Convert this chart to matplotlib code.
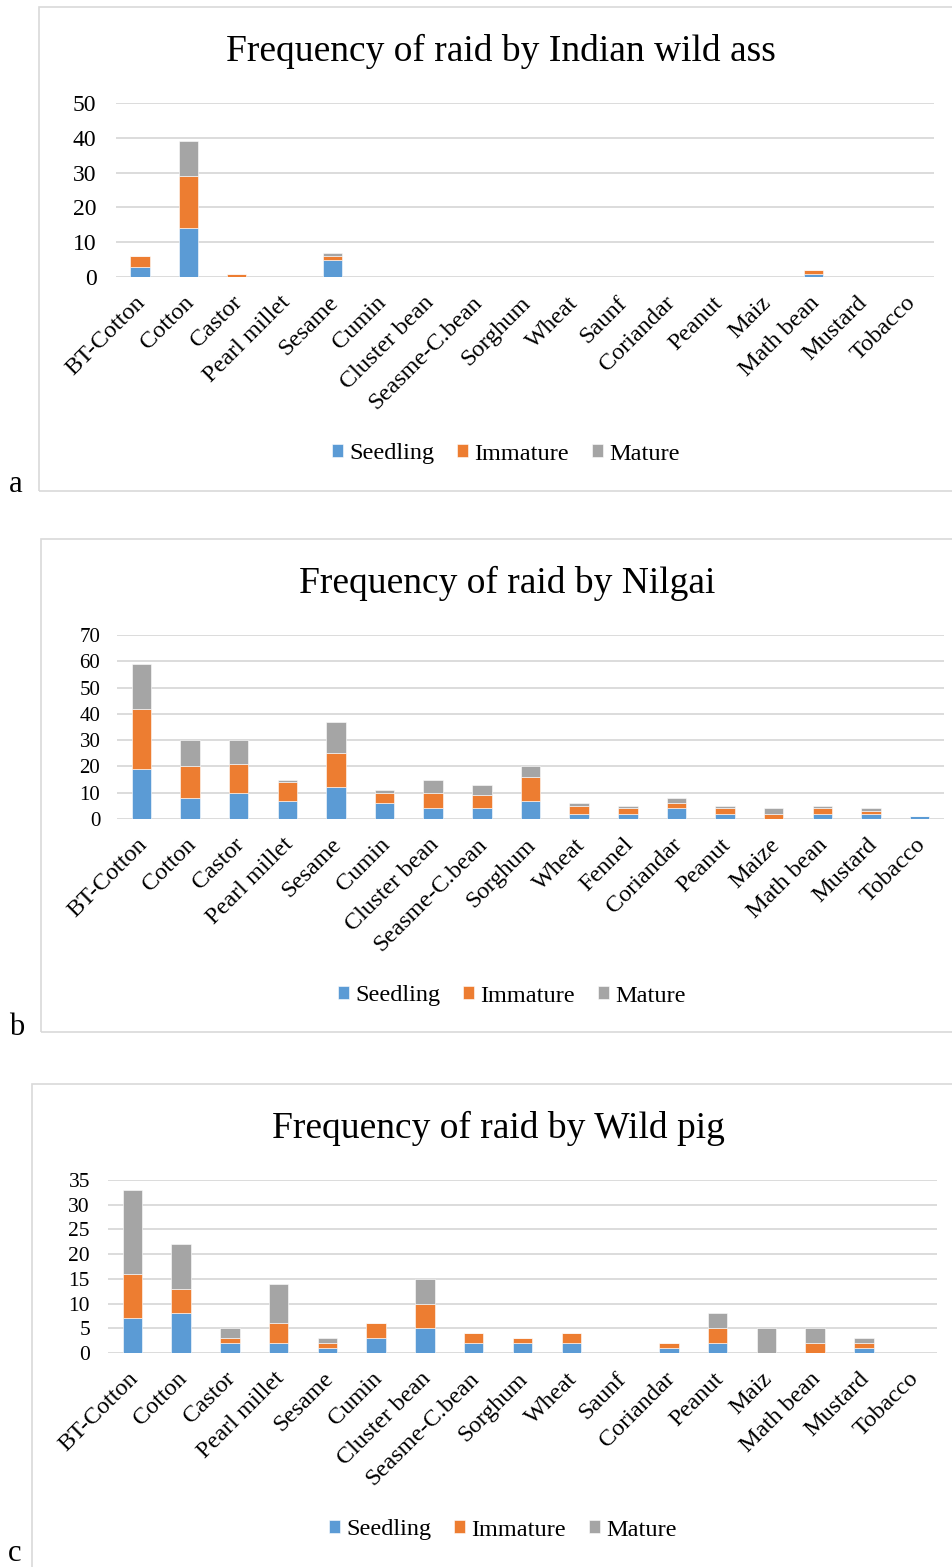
import matplotlib
matplotlib.use("Agg")
import matplotlib.pyplot as plt
from matplotlib.patches import Rectangle
from matplotlib.transforms import ScaledTranslation
import numpy as np

plt.rcParams['font.family'] = ['Liberation Serif', 'DejaVu Serif']

W, H = 953, 1567
DPI = 100

# ---------------- data ----------------
crops_a = ["BT-Cotton", "Cotton", "Castor", "Pearl millet", "Sesame", "Cumin", "Cluster bean",
           "Seasme-C.bean", "Sorghum", "Wheat", "Saunf", "Coriandar", "Peanut", "Maiz",
           "Math bean", "Mustard", "Tobacco"]
seedling_a = [3, 14, 0, 0, 5, 0, 0, 0, 0, 0, 0, 0, 0, 0, 1, 0, 0]
immature_a = [3, 15, 1, 0, 1, 0, 0, 0, 0, 0, 0, 0, 0, 0, 1, 0, 0]
mature_a = [0, 10, 0, 0, 1, 0, 0, 0, 0, 0, 0, 0, 0, 0, 0, 0, 0]

crops_b = ["BT-Cotton", "Cotton", "Castor", "Pearl millet", "Sesame", "Cumin", "Cluster bean",
           "Seasme-C.bean", "Sorghum", "Wheat", "Fennel", "Coriandar", "Peanut", "Maize",
           "Math bean", "Mustard", "Tobacco"]
seedling_b = [19, 8, 10, 7, 12, 6, 4, 4, 7, 2, 2, 4, 2, 0, 2, 2, 1]
immature_b = [23, 12, 11, 7, 13, 4, 6, 5, 9, 3, 2, 2, 2, 2, 2, 1, 0]
mature_b = [17, 10, 9, 1, 12, 1, 5, 4, 4, 1, 1, 2, 1, 2, 1, 1, 0]

crops_c = ["BT-Cotton", "Cotton", "Castor", "Pearl millet", "Sesame", "Cumin", "Cluster bean",
           "Seasme-C.bean", "Sorghum", "Wheat", "Saunf", "Coriandar", "Peanut", "Maiz",
           "Math bean", "Mustard", "Tobacco"]
seedling_c = [7, 8, 2, 2, 1, 3, 5, 2, 2, 2, 0, 1, 2, 0, 0, 1, 0]
immature_c = [9, 5, 1, 4, 1, 3, 5, 2, 1, 2, 0, 1, 3, 0, 2, 1, 0]
mature_c = [17, 9, 2, 8, 1, 0, 5, 0, 0, 0, 0, 0, 3, 5, 3, 1, 0]

series_names = ["Seedling", "Immature", "Mature"]
colors = ["#5B9BD5", "#ED7D31", "#A5A5A5"]
GRID = "#D9D9D9"

fig = plt.figure(figsize=(W / DPI, H / DPI), dpi=DPI)


def fx(x):
    return x / W


def fy(y):
    return 1 - y / H


def panel(box, axbox, title, title_xy, crops, s, i, m, ymax, ystep,
          tick_fs, cat_fs, ypad, legend_xy, letter, letter_xy):
    # border box
    bx0, by0, bx1, by1 = box
    fig.patches.append(Rectangle((fx(bx0), fy(by1)), fx(bx1 - bx0), (by1 - by0) / H,
                                 transform=fig.transFigure, fill=False,
                                 edgecolor=GRID, linewidth=1.2))
    l, t, r, b = axbox
    ax = fig.add_axes([fx(l), fy(b), fx(r - l), (b - t) / H])
    x = np.arange(len(crops))
    s = np.array(s, float); i = np.array(i, float); m = np.array(m, float)
    bw = 0.4
    ax.bar(x, s, bw, color=colors[0], edgecolor="white", linewidth=0.4, label=series_names[0], zorder=3)
    ax.bar(x, i, bw, bottom=s, color=colors[1], edgecolor="white", linewidth=0.4, label=series_names[1], zorder=3)
    ax.bar(x, m, bw, bottom=s + i, color=colors[2], edgecolor="white", linewidth=0.4, label=series_names[2], zorder=3)
    ax.set_xlim(-0.5, len(crops) - 0.5)
    ax.set_ylim(0, ymax)
    ax.set_yticks(np.arange(0, ymax + 0.1, ystep))
    ax.yaxis.grid(True, color=GRID, linewidth=1.3, zorder=0)
    ax.set_axisbelow(True)
    for sp in ax.spines.values():
        sp.set_visible(False)
    ax.tick_params(axis='y', length=0, pad=ypad, labelsize=tick_fs, colors="black")
    ax.tick_params(axis='x', length=0, pad=11)
    ax.set_xticks(x)
    ax.set_xticklabels(crops, rotation=45, ha='right', rotation_mode='anchor', fontsize=cat_fs)
    off = ScaledTranslation(-5 / DPI, 0, fig.dpi_scale_trans)
    for lab in ax.get_xticklabels():
        lab.set_transform(lab.get_transform() + off)
    ax.patch.set_alpha(0)
    fig.text(fx(title_xy[0]), fy(title_xy[1]), title, ha='center', va='center', fontsize=27)
    handles, labels = ax.get_legend_handles_labels()
    fig.legend(handles, labels, loc='center', bbox_to_anchor=(fx(legend_xy[0]), fy(legend_xy[1])),
               ncol=3, frameon=False, fontsize=17.5, handlelength=0.45, handleheight=0.45,
               handletextpad=0.25, columnspacing=0.95, borderpad=0)
    fig.text(fx(letter_xy[0]), fy(letter_xy[1]), letter, ha='center', va='baseline', fontsize=22)
    return ax


panel((39.5, 7, 960, 490.5), (116, 103, 934, 277), "Frequency of raid by Indian wild ass", (501, 51),
      crops_a, seedling_a, immature_a, mature_a, 50, 10, 17, 17.5, 14, (506, 454), "a", (16, 492))

panel((41, 539, 960, 1032), (117, 635, 944, 819), "Frequency of raid by Nilgai", (507, 583),
      crops_b, seedling_b, immature_b, mature_b, 70, 10, 15, 17.5, 12, (512, 996), "b", (17, 1035))

panel((32, 1084, 960, 1580), (108, 1180, 937, 1353), "Frequency of raid by Wild pig", (498, 1128),
      crops_c, seedling_c, immature_c, mature_c, 35, 5, 15.5, 17.5, 13, (503, 1530), "c", (15, 1561))

fig.savefig("out.png", dpi=DPI)
